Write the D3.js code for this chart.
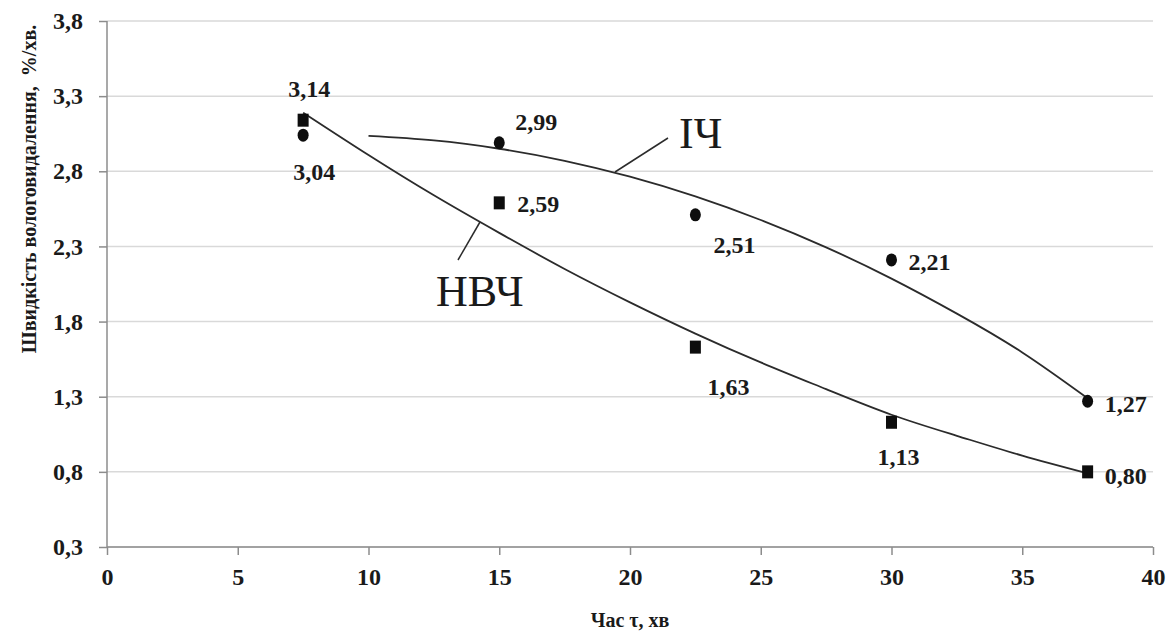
<!DOCTYPE html>
<html><head><meta charset="utf-8">
<script src="https://cdn.jsdelivr.net/npm/d3@7"></script>
<style>
html,body{margin:0;padding:0;background:#fff;}
svg{display:block;}
</style></head>
<body>
<svg id="chart" width="1174" height="638"></svg>
<script>
// ---- data ----
const times = [7.5, 15, 22.5, 30, 37.5];
const ichValues = [3.04, 2.99, 2.51, 2.21, 1.27];     // ІЧ (circles)
const nvchValues = [3.14, 2.59, 1.63, 1.13, 0.80];    // НВЧ (squares)
const ichLabels = ["3,04", "2,99", "2,51", "2,21", "1,27"];
const nvchLabels = ["3,14", "2,59", "1,63", "1,13", "0,80"];
// trend curves
const ichTrendX = [10, 12.5, 15, 17.5, 20, 22.5, 25, 27.5, 30, 32.5, 35, 37.5];
const ichTrendY = [3.035, 3.005, 2.95, 2.87, 2.764, 2.633, 2.476, 2.294, 2.086, 1.853, 1.595, 1.29];
const nvchTrendX = [7.5, 10, 12.5, 15, 17.5, 20, 22.5, 25, 27.5, 30, 32.5, 35, 37.5];
const nvchTrendY = [3.19, 2.908, 2.64, 2.39, 2.15, 1.928, 1.72, 1.528, 1.35, 1.18, 1.04, 0.908, 0.79];
const xTicks = [0, 5, 10, 15, 20, 25, 30, 35, 40];
const yTicks = [0.3, 0.8, 1.3, 1.8, 2.3, 2.8, 3.3, 3.8];
const yTitle = "Швидкість вологовидалення,  %/хв.";
const xTitle = "Час τ, хв";

// ---- layout / style (not data) ----
const ichLabelOffsets = [[-10, 45], [16, -13], [18, 38], [17, 10], [17, 11]];
const nvchLabelOffsets = [[-15, -23], [18, 9], [12, 48], [-14, 43], [17, 12]];
const SERIF = 'Liberation Serif, DejaVu Serif, Noto Serif, Times New Roman, serif';

const svg = d3.select("#chart");
const x = d3.scaleLinear().domain([0, 40]).range([107, 1153]);
const y = d3.scaleLinear().domain([0.3, 3.8]).range([547, 21]);

// gridlines
svg.append("g").selectAll("line").data(yTicks).join("line")
  .attr("x1", x(0)).attr("x2", x(40))
  .attr("y1", d => y(d)).attr("y2", d => y(d))
  .attr("stroke", "#d9d9d9").attr("stroke-width", 1.5);

const fmt = d => d3.format(".1f")(d).replace(".", ",");

// y axis
const yAxis = svg.append("g").attr("transform", `translate(${x(0)},0)`)
  .call(d3.axisLeft(y).tickValues(yTicks).tickFormat(fmt).tickSize(8).tickPadding(16));
// x axis
const xAxis = svg.append("g").attr("transform", `translate(0,${y(0.3)})`)
  .call(d3.axisBottom(x).tickValues(xTicks).tickFormat(d3.format("d")).tickSize(8).tickPadding(13));
[yAxis, xAxis].forEach(g => {
  g.attr("font-family", SERIF);
  g.select(".domain").attr("stroke", "#8c8c8c").attr("stroke-width", 1.5);
  g.selectAll(".tick line").attr("stroke", "#8c8c8c").attr("stroke-width", 1.5);
  g.selectAll(".tick text").attr("fill", "#1a1a1a")
    .style("font-family", SERIF).attr("font-size", 24).attr("font-weight", "bold");
});
yAxis.select(".domain").attr("d", `M0,${y(3.8)}V${y(0.3)}`);
xAxis.select(".domain").attr("d", `M${x(0)},0H${x(40)}`);

// trend lines
const line = d3.line().x(d => x(d[0])).y(d => y(d[1])).curve(d3.curveNatural);
svg.append("path").datum(ichTrendX.map((v, i) => [v, ichTrendY[i]]))
  .attr("d", line).attr("fill", "none").attr("stroke", "#2b2b2b").attr("stroke-width", 1.8);
svg.append("path").datum(nvchTrendX.map((v, i) => [v, nvchTrendY[i]]))
  .attr("d", line).attr("fill", "none").attr("stroke", "#2b2b2b").attr("stroke-width", 1.8);

// markers
svg.append("g").selectAll("ellipse").data(times).join("ellipse")
  .attr("cx", d => x(d)).attr("cy", (d, i) => y(ichValues[i]))
  .attr("rx", 5.5).attr("ry", 6.5).attr("fill", "#0d0d0d");
svg.append("g").selectAll("rect").data(times).join("rect")
  .attr("x", d => x(d) - 5.5).attr("y", (d, i) => y(nvchValues[i]) - 6.5)
  .attr("width", 11).attr("height", 13).attr("fill", "#0d0d0d");

// data labels
function labels(vals, labs, offs) {
  svg.append("g").selectAll("text").data(times).join("text")
    .attr("x", (d, i) => x(d) + offs[i][0])
    .attr("y", (d, i) => y(vals[i]) + offs[i][1])
    .text((d, i) => labs[i])
    .attr("fill", "#1a1a1a").style("font-family", SERIF).attr("font-size", 24).attr("font-weight", "bold");
}
labels(ichValues, ichLabels, ichLabelOffsets);
labels(nvchValues, nvchLabels, nvchLabelOffsets);

// curve name annotations with leader lines
svg.append("line").attr("x1", 615).attr("y1", 172).attr("x2", 668).attr("y2", 138)
  .attr("stroke", "#2b2b2b").attr("stroke-width", 1.5);
svg.append("text").attr("x", 679).attr("y", 148).text("ІЧ")
  .attr("fill", "#1a1a1a").style("font-family", SERIF).attr("font-size", 44);
svg.append("line").attr("x1", 480).attr("y1", 222).attr("x2", 458).attr("y2", 260)
  .attr("stroke", "#2b2b2b").attr("stroke-width", 1.5);
svg.append("text").attr("x", 436).attr("y", 306).text("НВЧ")
  .attr("fill", "#1a1a1a").style("font-family", SERIF).attr("font-size", 44);

// axis titles
svg.append("text").attr("transform", `translate(36,${(30 + 348) / 2}) rotate(-90)`)
  .attr("text-anchor", "middle").style("white-space", "pre")
  .text(yTitle).attr("fill", "#1a1a1a").style("font-family", SERIF).attr("font-size", 20).attr("font-weight", "bold");
svg.append("text").attr("x", x(20)).attr("y", 627).attr("text-anchor", "middle")
  .text(xTitle).attr("fill", "#1a1a1a").style("font-family", SERIF).attr("font-size", 20).attr("font-weight", "bold");
</script>
</body></html>
